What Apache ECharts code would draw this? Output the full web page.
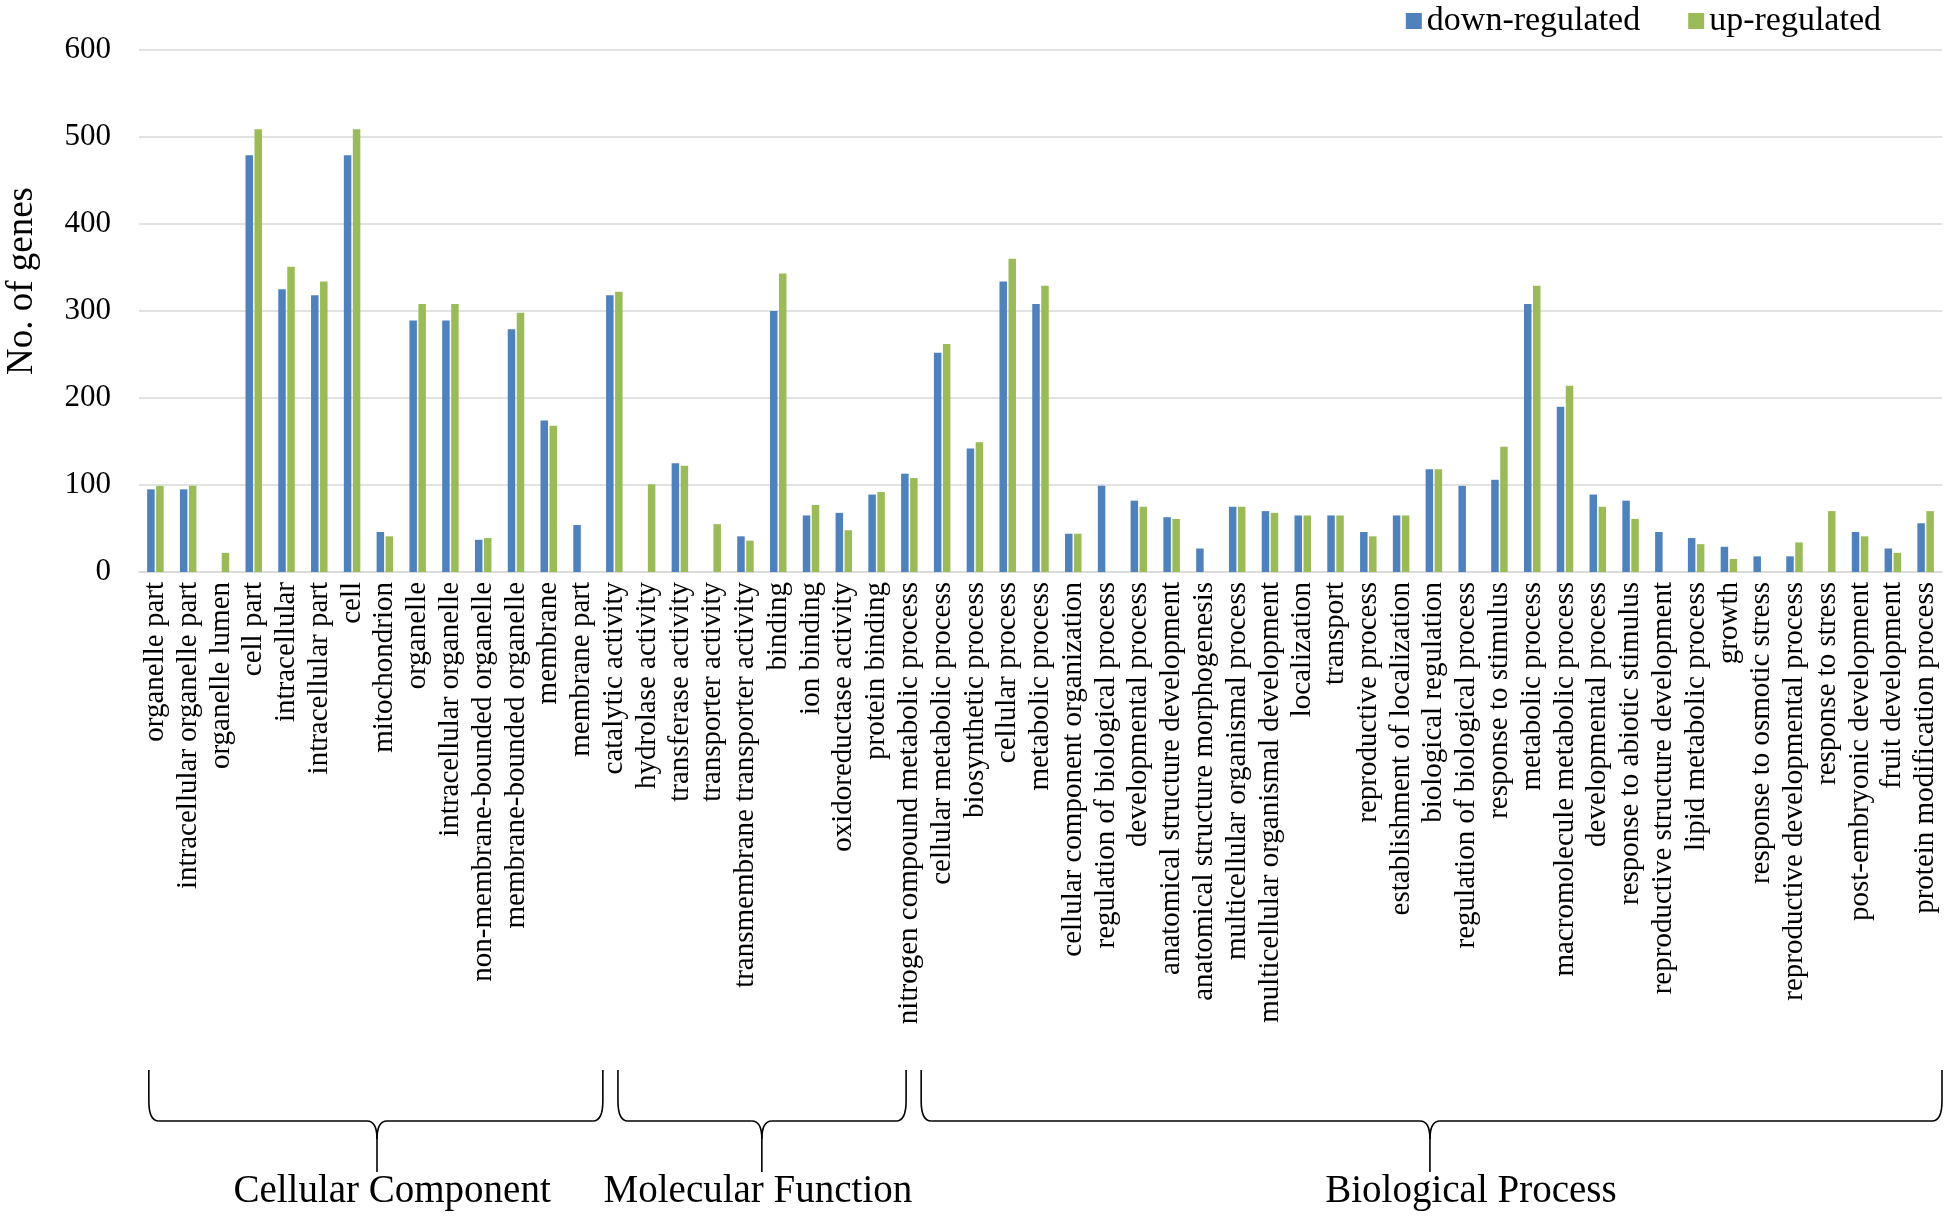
<!DOCTYPE html>
<html>
<head>
<meta charset="utf-8">
<script src="https://cdn.jsdelivr.net/npm/echarts@6/dist/echarts.min.js"></script>
<style>
html,body{margin:0;padding:0;background:#fff;}
#c{width:1946px;height:1216px;}
</style>
</head>
<body>
<div id="c"></div>
<script>
// ---------------- data ----------------
const categories = [
  'organelle part','intracellular organelle part','organelle lumen','cell part','intracellular',
  'intracellular part','cell','mitochondrion','organelle','intracellular organelle',
  'non-membrane-bounded organelle','membrane-bounded organelle','membrane','membrane part',
  'catalytic activity','hydrolase activity','transferase activity','transporter activity',
  'transmembrane transporter activity','binding','ion binding','oxidoreductase activity',
  'protein binding','nitrogen compound metabolic process',
  'cellular metabolic process','biosynthetic process','cellular process','metabolic process',
  'cellular component organization','regulation of biological process','developmental process',
  'anatomical structure development','anatomical structure morphogenesis',
  'multicellular organismal process','multicellular organismal development','localization',
  'transport','reproductive process','establishment of localization','biological regulation',
  'regulation of biological process','response to stimulus','metabolic process',
  'macromolecule metabolic process','developmental process','response to abiotic stimulus',
  'reproductive structure development','lipid metabolic process','growth',
  'response to osmotic stress','reproductive developmental process','response to stress',
  'post-embryonic development','fruit development','protein modification process'
];
const downRegulated = [
  95, 95, null, 479, 325, 318, 479, 46, 289, 289, 37, 279, 174, 54,
  318, null, 125, null, 41, 300, 65, 68, 89, 113,
  252, 142, 334, 308, 44, 99, 82, 63, 27, 75, 70, 65, 65, 46, 65, 118,
  99, 106, 308, 190, 89, 82, 46, 39, 29, 18, 18, null, 46, 27, 56
];
const upRegulated = [
  99, 99, 22, 509, 351, 334, 509, 41, 308, 308, 39, 298, 168, null,
  322, 101, 122, 55, 36, 343, 77, 48, 92, 108,
  262, 149, 360, 329, 44, null, 75, 61, null, 75, 68, 65, 65, 41, 65, 118,
  null, 144, 329, 214, 75, 61, null, 32, 15, null, 34, 70, 41, 22, 70
];
const seriesNames = ['down-regulated', 'up-regulated'];
const yMin = 0, yMax = 600, yStep = 100;
const yAxisTitle = 'No. of genes';
const groupNames = ['Cellular Component', 'Molecular Function', 'Biological Process'];

// ---------------- layout (not data) ----------------
// bracket geometry in category-slot units measured from the plot's left edge
const bracketLayout = [
  {l: 0.30, r: 14.15, tip: 7.26, label: 7.72},
  {l: 14.61, r: 23.40, tip: 19.0, label: 18.88},
  {l: 23.86, r: 55.0, tip: 39.38, label: 40.63}
];
const FONT = "'Liberation Serif','Times New Roman',serif";
const BLUE = '#4F81BD', GREEN = '#9BBB59';

const chart = echarts.init(document.getElementById('c'), null, {renderer: 'canvas'});
const option = {
  backgroundColor: '#ffffff',
  animation: false,
  textStyle: {fontFamily: FONT, color: '#000'},
  legend: {
    data: seriesNames, right: 60, top: -1, icon: 'rect',
    itemWidth: 16, itemHeight: 16, itemGap: 48,
    textStyle: {fontFamily: FONT, fontSize: 34, color: '#000'}
  },
  grid: {left: 139, right: 4, top: 50, bottom: 644, containLabel: false, outerBoundsMode: 'none'},
  xAxis: {
    type: 'category', data: categories,
    axisTick: {show: false},
    axisLine: {lineStyle: {color: '#d9d9d9', width: 1.5}},
    axisLabel: {interval: 0, rotate: 90, fontSize: 29, lineHeight: 29, fontFamily: FONT,
      color: '#000', margin: 10, hideOverlap: false}
  },
  yAxis: {
    type: 'value', min: yMin, max: yMax, interval: yStep,
    axisLine: {show: false}, axisTick: {show: false},
    splitLine: {lineStyle: {color: '#d9d9d9', width: 1.5}},
    axisLabel: {fontSize: 31, fontFamily: FONT, color: '#000', margin: 28}
  },
  series: [
    {name: seriesNames[0], type: 'bar', data: downRegulated, barWidth: 7.5, barGap: '20%',
      itemStyle: {color: BLUE}},
    {name: seriesNames[1], type: 'bar', data: upRegulated, barWidth: 7.5, barGap: '20%',
      itemStyle: {color: GREEN}}
  ]
};
chart.setOption(option);

// decorations: y-axis title and group brackets
const x0 = chart.convertToPixel({xAxisIndex: 0}, 0);
const xN = chart.convertToPixel({xAxisIndex: 0}, categories.length - 1);
const step = (xN - x0) / (categories.length - 1);
const leftEdge = x0 - step / 2;
const ux = u => leftEdge + u * step;
const yTop = 1070, yMid = 1121, yTip = 1172;
const lineStyle = {stroke: '#000', lineWidth: 1.6, fill: null};

const graphics = [{
  type: 'text', x: 22, y: 281, rotation: Math.PI / 2,
  style: {text: yAxisTitle, font: '37px ' + FONT, fill: '#000', textAlign: 'center', textVerticalAlign: 'middle'}
}];
function seg(x1, y1, x2, y2) {
  graphics.push({type: 'line', shape: {x1, y1, x2, y2}, style: lineStyle, silent: true});
}
function curve(x1, y1, cx, cy, x2, y2) {
  graphics.push({type: 'bezierCurve', shape: {x1, y1, cpx1: cx, cpy1: cy, x2, y2}, style: lineStyle, silent: true});
}
bracketLayout.forEach((b, i) => {
  const xl = ux(b.l), xr = ux(b.r), xc = ux(b.tip);
  seg(xl, yTop, xl, yMid - 20);
  curve(xl, yMid - 20, xl, yMid, xl + 10, yMid);
  seg(xl + 10, yMid, xc - 10, yMid);
  curve(xc - 10, yMid, xc, yMid, xc, yMid + 18);
  seg(xc, yMid + 18, xc, yTip);
  curve(xc, yMid + 18, xc, yMid, xc + 10, yMid);
  seg(xc + 10, yMid, xr - 10, yMid);
  curve(xr - 10, yMid, xr, yMid, xr, yMid - 20);
  seg(xr, yMid - 20, xr, yTop);
  graphics.push({
    type: 'text', x: ux(b.label), y: 1192,
    style: {text: groupNames[i], font: '39px ' + FONT, fill: '#000', textAlign: 'center', textVerticalAlign: 'middle'}
  });
});
chart.setOption({graphic: graphics});
</script>
</body>
</html>
